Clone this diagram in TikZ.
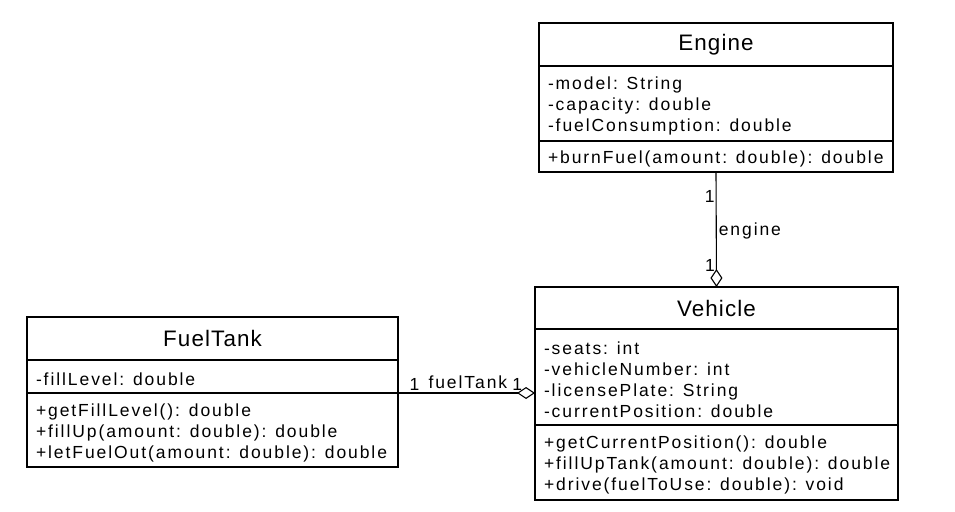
\documentclass[tikz,border=0pt]{standalone}
\usepackage{fontspec}
\setmainfont{Liberation Sans}
\newfontfamily\memberfont[LetterSpace=11]{Liberation Sans}
\newfontfamily\titlefont[LetterSpace=5]{Liberation Sans}
\usetikzlibrary{positioning,arrows.meta}
\tikzset{
    classhead/.style={draw, line width=1.6pt, outer sep=0pt, anchor=north,
        minimum width=#1, minimum height=43pt, inner sep=0pt,
        font=\titlefont\fontsize{22.4}{26}\selectfont},
    members/.style={draw, line width=1.6pt, outer sep=0pt, align=left,
        inner xsep=9pt, inner ysep=0pt, minimum height=#1,
        execute at begin node={\rule{0pt}{18pt}},
        font=\memberfont\fontsize{17.5}{21}\selectfont},
    assoc/.style={line width=1.1pt, -{Diamond[open, length=18pt, width=12pt]}},
    mult/.style={font=\memberfont\fontsize{17.5}{21}\selectfont, inner sep=2pt}
}
\begin{document}
\begin{tikzpicture}[x=1pt, y=-1pt]
    \useasboundingbox (0,0) rectangle (955,511);

    % Engine
    \node[classhead=354pt] (engine) at (716,23) {Engine};
    \node[members=75pt, text width=336pt, below=0pt of engine] (engineattr)
        {-model: String\\-capacity: double\\-fuelConsumption: double};
    \node[members=31pt, text width=336pt, below=0pt of engineattr] (engineops)
        {+burnFuel(amount: double): double};

    % Vehicle
    \node[classhead=363pt, minimum height=42pt] (vehicle) at (716.5,287) {Vehicle};
    \node[members=96pt, text width=345pt, below=0pt of vehicle] (vehicleattr)
        {-seats: int\\-vehicleNumber: int\\-licensePlate: String\\-currentPosition: double};
    \node[members=75pt, text width=345pt, below=0pt of vehicleattr] (vehicleops)
        {+getCurrentPosition(): double\\+fillUpTank(amount: double): double\\+drive(fuelToUse: double): void};

    % FuelTank
    \node[classhead=371pt] (tank) at (212.5,317) {FuelTank};
    \node[members=33pt, text width=353pt, below=0pt of tank] (tankattr)
        {-fillLevel: double};
    \node[members=74pt, text width=353pt, below=0pt of tankattr] (tankops)
        {+getFillLevel(): double\\+fillUp(amount: double): double\\+letFuelOut(amount: double): double};

    \draw[assoc] (engineops.south) --
        node[mult, pos=0.21, left, inner xsep=1pt] {1}
        node[mult, pos=0.51, right] {engine}
        node[mult, pos=0.81, left, inner xsep=1pt] {1} (vehicle.north);
    \draw[assoc] (tankattr.south east) --
        node[mult, pos=0.12, above] {1}
        node[mult, pos=0.51, above=2pt] {fuelTank}
        node[mult, pos=0.87, above] {1} (tankattr.south east -| vehicleattr.west);
\end{tikzpicture}
\end{document}
